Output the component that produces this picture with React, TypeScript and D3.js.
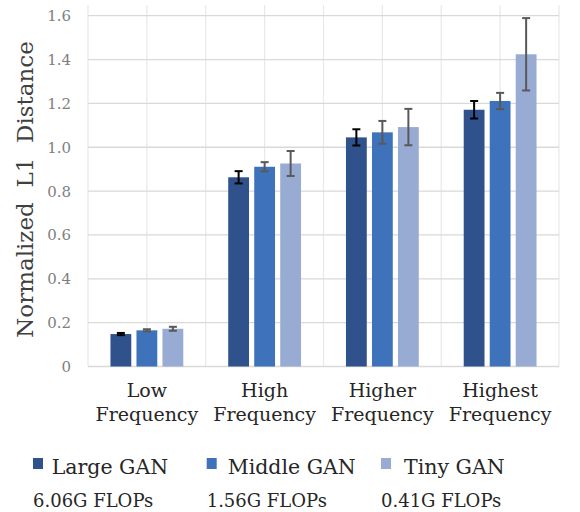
import React from "react";
import * as d3 from "d3";

const categories = [["Low", "Frequency"], ["High", "Frequency"], ["Higher", "Frequency"], ["Highest", "Frequency"]];
const seriesNames = ["Large GAN", "Middle GAN", "Tiny GAN"];
const flops = ["6.06G FLOPs", "1.56G FLOPs", "0.41G FLOPs"];
const largeValues = [0.148, 0.863, 1.045, 1.171];
const middleValues = [0.165, 0.911, 1.068, 1.211];
const tinyValues = [0.172, 0.926, 1.092, 1.424];
const largeErr = [0.005, 0.028, 0.037, 0.04];
const middleErr = [0.005, 0.021, 0.052, 0.037];
const tinyErr = [0.009, 0.057, 0.083, 0.165];
const yTicks = [0, 0.2, 0.4, 0.6, 0.8, 1.0, 1.2, 1.4, 1.6];

const colors = ["#30528C", "#3E72BA", "#98ABD3"];
const errColors = ["#000000", "#595959", "#595959"];
const FONT = "'DejaVu Serif', serif";

export default function App() {
  const W = 580, H = 512;
  const left = 88, right = 559, top = 5, bottom = 366.5;
  const catKeys = categories.map((c) => c.join(" "));
  const x0 = d3.scaleBand().domain(catKeys).range([left, right]).padding(0);
  const x1 = d3.scaleBand().domain(seriesNames).range([0, x0.bandwidth()]).paddingInner(0.2).paddingOuter(0.864);
  const y = d3.scaleLinear().domain([0, 1.6]).range([bottom, 15.7]);
  const values = [largeValues, middleValues, tinyValues];
  const errs = [largeErr, middleErr, tinyErr];
  const half = x0.bandwidth() / 2;
  const vLines: number[] = [];
  catKeys.forEach((k) => { vLines.push(x0(k)!); vLines.push(x0(k)! + half); });
  vLines.push(right);

  return (
    <svg width={W} height={H} style={{ position: "absolute", left: 0, top: 0, background: "#fff" }} fontFamily={FONT}>
      {vLines.map((vx, i) => (
        <line key={"v" + i} x1={vx} x2={vx} y1={top} y2={bottom} stroke="#E8E8E8" strokeWidth={1.2} />
      ))}
      {yTicks.map((t, i) => (
        <line key={"h" + i} x1={left} x2={right} y1={y(t)} y2={y(t)} stroke="#D9D9D9" strokeWidth={1.3} />
      ))}
      {yTicks.map((t, i) => (
        <text key={"t" + i} x={71} y={y(t)} dy="0.36em" textAnchor="end" fontSize={15} fill="#7F7F7F">
          {t === 0 ? "0" : t.toFixed(1)}
        </text>
      ))}
      {catKeys.map((k, ci) =>
        seriesNames.map((s, si) => {
          const bx = x0(k)! + x1(s)!;
          const v = values[si][ci];
          const e = errs[si][ci];
          const cx = bx + x1.bandwidth() / 2;
          return (
            <g key={k + s}>
              <rect x={bx} y={y(v)} width={x1.bandwidth()} height={y(0) - y(v)} fill={colors[si]} />
              <line x1={cx} x2={cx} y1={y(v + e)} y2={y(v - e)} stroke={errColors[si]} strokeWidth={2} />
              <line x1={cx - 4} x2={cx + 4} y1={y(v + e)} y2={y(v + e)} stroke={errColors[si]} strokeWidth={2} />
              <line x1={cx - 4} x2={cx + 4} y1={y(v - e)} y2={y(v - e)} stroke={errColors[si]} strokeWidth={2} />
            </g>
          );
        })
      )}
      {categories.map((c, ci) => (
        <text key={"c" + ci} x={x0(catKeys[ci])! + half} y={396.5} textAnchor="middle" fontSize={19} fill="#262626">
          <tspan x={x0(catKeys[ci])! + half} dy={0}>{c[0]}</tspan>
          <tspan x={x0(catKeys[ci])! + half} dy={24}>{c[1]}</tspan>
        </text>
      ))}
      <text transform={`translate(33,189.5) rotate(-90)`} textAnchor="middle" fontSize={23} fill="#404040" style={{ whiteSpace: "pre" }}>
        {"Normalized  L1  Distance"}
      </text>
      {seriesNames.map((s, i) => {
        const lx = [33, 206.7, 381][i];
        const tx = [51.7, 227.7, 404][i];
        return (
          <g key={"l" + s}>
            <rect x={lx} y={458} width={10} height={11} fill={colors[i]} />
            <text x={tx} y={474} fontSize={20.5} fill="#262626">{s}</text>
            <text x={lx} y={506.5} fontSize={18} fill="#262626">{flops[i]}</text>
          </g>
        );
      })}
    </svg>
  );
}
